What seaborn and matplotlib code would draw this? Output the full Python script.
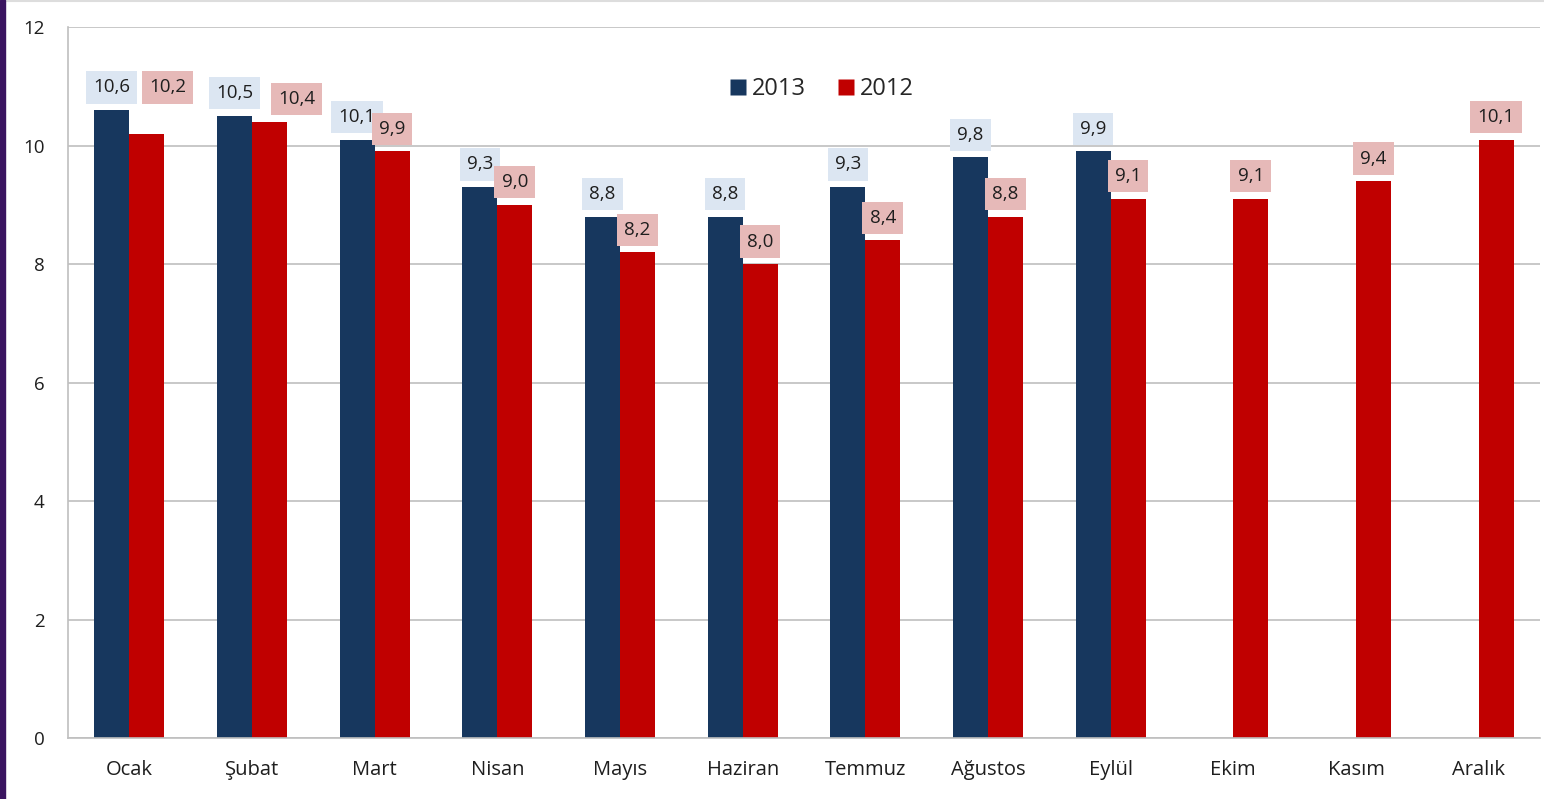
import numpy as np
import pandas as pd
import matplotlib
matplotlib.use("Agg")
import matplotlib.pyplot as plt
from matplotlib.patches import Rectangle
from matplotlib.lines import Line2D
import seaborn as sns

months = ["Ocak", "Şubat", "Mart", "Nisan", "Mayıs", "Haziran", "Temmuz",
          "Ağustos", "Eylül", "Ekim", "Kasım", "Aralık"]
y2013 = [10.6, 10.5, 10.1, 9.3, 8.8, 8.8, 9.3, 9.8, 9.9, np.nan, np.nan, np.nan]
y2012 = [10.2, 10.4, 9.9, 9.0, 8.2, 8.0, 8.4, 8.8, 9.1, 9.1, 9.4, 10.1]
years = ["2013", "2012"]

C13, C12 = "#17375E", "#C00000"
BG13, BG12 = "#DCE6F2", "#E6B9B8"
GRID = "#BFBFBF"
TXT = "#1E1E1E"

df = pd.DataFrame({
    "ay": months * 2,
    "yil": [years[0]] * 12 + [years[1]] * 12,
    "deger": y2013 + y2012,
})

sns.set_style("white")
plt.rcParams["font.family"] = ["Open Sans", "DejaVu Sans"]

fig = plt.figure(figsize=(15.44, 7.99), dpi=100)
ax = fig.add_axes([0.044, 0.0763, 0.9534, 0.8899])

sns.barplot(data=df, x="ay", y="deger", hue="yil", order=months,
            hue_order=years, palette=[C13, C12], width=0.57, gap=0,
            saturation=1, edgecolor="none", ax=ax, legend=False)

ax.set_xlim(-0.5, 11.5)
ax.set_ylim(0, 12)
ax.set_yticks(range(0, 13, 2))
ax.yaxis.grid(True, color=GRID, linewidth=1.2)
ax.set_axisbelow(True)
ax.set_xlabel("")
ax.set_ylabel("")
for s in ["top", "right"]:
    ax.spines[s].set_visible(False)
for s in ["left", "bottom"]:
    ax.spines[s].set_color(GRID)
    ax.spines[s].set_linewidth(1.2)
ax.set_xticks(np.arange(-0.5, 12, 1), minor=True)
ax.tick_params(axis="x", which="major", length=0, pad=16, labelsize=14.5, labelcolor=TXT)
ax.tick_params(axis="x", which="minor", length=7, color=GRID, width=1.2)
ax.tick_params(axis="y", length=6, color=GRID, width=1.2, pad=11, labelsize=13.5, labelcolor=TXT)

# value labels with shaded boxes
bw = 0.285
nudge12 = {0: (0.17, 0.4), 1: (0.22, 0.0)}
for i in range(12):
    for vals, off, bg, nd in [(y2013, -bw / 2, BG13, {}), (y2012, bw / 2, BG12, nudge12)]:
        v = vals[i]
        if np.isnan(v):
            continue
        dx, dy = nd.get(i, (0, 0))
        ax.text(i + off + dx, v + 0.38 + dy, f"{v:.1f}".replace(".", ","),
                ha="center", va="center", fontsize=13.5, color=TXT,
                bbox=dict(boxstyle="square,pad=0.38", fc=bg, ec="none"))

handles = [Line2D([], [], marker="s", linestyle="none", markersize=11,
                  markerfacecolor=c, markeredgecolor="none") for c in (C13, C12)]
ax.legend(handles, years, loc="center", bbox_to_anchor=(0.511, 0.913), ncol=2,
          frameon=False, fontsize=17, handletextpad=0.1, columnspacing=1.2,
          handlelength=1.0)

# left purple stripe and top rule of the slide
fig.patches.append(Rectangle((0, 0), 0.0035, 1, transform=fig.transFigure,
                             color="#3A1460", zorder=10))
fig.add_artist(Line2D([0, 1], [0.999, 0.999], transform=fig.transFigure,
                      color="#DDDDDD", linewidth=1.5))

fig.savefig("out.png", dpi=100)
